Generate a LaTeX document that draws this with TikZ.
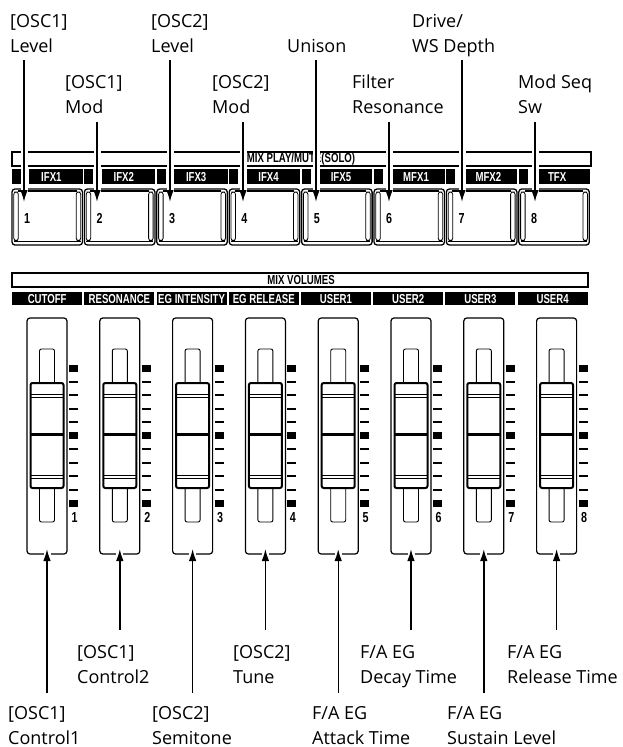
\documentclass[tikz,border=0pt]{standalone}
\usepackage{fontspec}
\setmainfont{Open Sans}
\newfontfamily\panelfont[FakeStretch=0.74]{Liberation Sans}
\usetikzlibrary{arrows.meta,positioning,calc}

\begin{document}
\begin{tikzpicture}[
  x=1pt, y=-1pt,
  lbl/.style={
    anchor=base west,
    align=left,
    inner sep=0pt,
    font=\fontsize{18}{25}\selectfont,
  },
  tagbar/.style={
    fill=black,
    text=white,
    inner xsep=0pt,
    inner ysep=0pt,
    minimum height=15pt,
    font=\panelfont\bfseries\fontsize{13}{13}\selectfont,
  },
  hdr/.style={
    fill=white,
    inner sep=0pt,
    font=\panelfont\bfseries\fontsize{13}{13}\selectfont,
  },
  num/.style={
    inner sep=0pt,
    font=\panelfont\bfseries\fontsize{14.5}{14.5}\selectfont,
  },
  panel/.style={draw, line width=1.2pt},
  arr/.style={
    -{Latex[length=12pt,width=7.5pt]},
    line width=1.4pt,
    preaction={draw=white, line width=7pt, -},
  },
]
  \useasboundingbox (0,0) rectangle (623,747);

  % Upper row: mute buttons with their effect tags
  \draw[panel] (12,152) rectangle (591,166);
  \node[hdr] (mixplay) at (301,159) {MIX PLAY/MUTE(SOLO)};
  \foreach \k/\t in {0/IFX1,1/IFX2,2/IFX3,3/IFX4,4/IFX5,5/MFX1,6/MFX2,7/TFX} {
    \pgfmathsetmacro\L{12+72.4*\k}
    \fill (\L,169) rectangle (\L+9,184);
    \node[tagbar, anchor=north west, minimum width=53.5pt, text width=45.5pt,
          align=left, inner xsep=0pt] (fx\k) at (\L+17,169) {\hspace*{8pt}\t};
    \draw[line width=1.3pt, rounded corners=3pt] (\L,189) rectangle (\L+70.5,245);
    \draw[line width=2.2pt] (\L+6,190.6) -- (\L+64.5,190.6);
    \draw[line width=0.7pt] (\L+2,241.8) -- (\L+68.5,241.8);
    \draw[line width=0.8pt, rounded corners=2.3pt] (\L+1.8,192) rectangle (\L+6.3,240.5);
    \draw[line width=0.8pt, rounded corners=2.3pt] (\L+64.2,192) rectangle (\L+68.7,240.5);
    \node[num, anchor=base west] (bn\k) at (\L+12,223) {\the\numexpr\k+1\relax};
  }

  % Lower row: faders
  \draw[panel] (12,273) rectangle (588,287);
  \node[hdr] (mixvol) at (301,280) {MIX VOLUMES};
  \foreach \k/\t in {0/CUTOFF,1/RESONANCE,2/EG INTENSITY,3/EG RELEASE,
                     4/USER1,5/USER2,6/USER3,7/USER4} {
    \pgfmathsetmacro\L{12+72.2*\k}
    \node[tagbar, anchor=north west, minimum width=70pt, minimum height=13pt]
      (hd\k) at (\L,292) {\t};
  }
  \foreach \k in {0,...,7} {
    \pgfmathsetmacro\c{47+72.8*\k}
    \draw[line width=1.2pt, rounded corners=3pt] (\c-20,318) rectangle (\c+20,554);
    \draw[line width=0.9pt, rounded corners=2pt] (\c-7.5,349) rectangle (\c+7.5,522);
    \draw[line width=2pt, fill=white, rounded corners=2pt] (\c-16.5,383) rectangle (\c+16.5,488);
    \draw[line width=0.6pt] (\c-16.5,394) -- (\c+16.5,394) (\c-16.5,397.5) -- (\c+16.5,397.5);
    \draw[line width=2.6pt] (\c-16.5,434.5) -- (\c+16.5,434.5);
    \draw[line width=0.6pt] (\c-16.5,475) -- (\c+16.5,475) (\c-16.5,478.5) -- (\c+16.5,478.5);
    \foreach \m in {0,5,10} {\fill (\c+22,364.5+13.5*\m) rectangle (\c+31,371.5+13.5*\m);}
    \foreach \m in {1,2,3,4,6,7,8,9} {\draw[line width=2pt] (\c+22,368+13.5*\m) -- (\c+31,368+13.5*\m);}
    \node[num, anchor=base] (sn\k) at (\c+27.5,522) {\the\numexpr\k+1\relax};
  }

  % Parameter labels, above the buttons (anchored on the last line)
  \node[lbl] (lt1) at (10,52)   {[OSC1]\\Level};
  \node[lbl] (lt2) at (65,113)  {[OSC1]\\Mod};
  \node[lbl] (lt3) at (151,52)  {[OSC2]\\Level};
  \node[lbl] (lt4) at (212,113) {[OSC2]\\Mod};
  \node[lbl] (lt5) at (287,52)  {Unison};
  \node[lbl] (lt6) at (352,113) {Filter\\Resonance};
  \node[lbl] (lt7) at (412,52)  {Drive/\\WS Depth};
  \node[lbl] (lt8) at (518,113) {Mod Seq\\Sw};
  % Parameter labels, below the faders
  \node[lbl] (lb1) at (8,744)   {[OSC1]\\Control1};
  \node[lbl] (lb2) at (77,683)  {[OSC1]\\Control2};
  \node[lbl] (lb3) at (152,744) {[OSC2]\\Semitone};
  \node[lbl] (lb4) at (233,683) {[OSC2]\\Tune};
  \node[lbl] (lb5) at (312,744) {F/A EG\\Attack Time};
  \node[lbl] (lb6) at (360,683) {F/A EG\\Decay Time};
  \node[lbl] (lb7) at (447,744) {F/A EG\\Sustain Level};
  \node[lbl] (lb8) at (507,683) {F/A EG\\Release Time};

  % Arrows into the buttons
  \foreach \k/\y in {0/60,1/122,2/60,3/122,4/60,5/122,6/60,7/122} {
    \coordinate (bs\k) at (24+73*\k,\y);
    \coordinate (bt\k) at (24+73*\k,202);
    \draw[arr] (bs\k) -- (bt\k);
  }
  % Arrows into the faders
  \foreach \k/\y in {0/693,1/630,2/693,3/630,4/693,5/630,6/693,7/630} {
    \coordinate (fs\k) at (47+72.8*\k,\y);
    \coordinate (ft\k) at (47+72.8*\k,549);
    \draw[arr] (fs\k) -- (ft\k);
  }
\end{tikzpicture}
\end{document}
